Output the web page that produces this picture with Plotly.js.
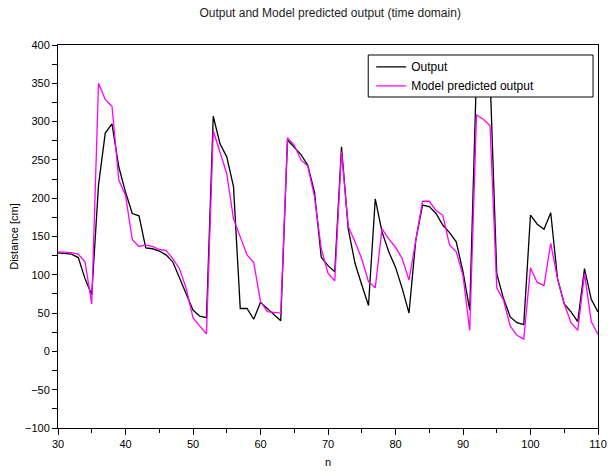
<!DOCTYPE html>
<html>
<head>
<meta charset="utf-8">
<script src="https://cdn.plot.ly/plotly-3.0.1.min.js"></script>
<style>html,body{margin:0;padding:0;background:#fff;}#chart{width:608px;height:471px;}</style>
</head>
<body>
<div id="chart"></div>
<script>
// sample index n = 30..110
const nStart = 30;
const outputValues = [
  128.5, 128, 127, 122.5, 95, 74, 217, 285, 297, 241,
  208, 180, 177, 135, 134, 131, 126, 117, 97, 75,
  54, 46, 44, 307, 271, 254, 215, 56, 56, 42,
  64, 56, 49, 40, 276, 267, 257, 243, 208, 123,
  112, 104, 267, 160, 115, 87, 60, 199, 156, 130,
  110, 82, 50, 145, 191, 189, 180, 165, 155, 143,
  104, 54, 365, 375, 362, 101.5, 69, 45, 37.5, 35,
  178, 166, 159.5, 181, 95, 62, 51.5, 39, 108, 68,
  51.5
];
const predictedValues = [
  130, 129.5, 129, 127, 117, 62, 350, 329, 320, 224,
  204, 146, 137, 139, 137, 133, 132, 121, 108, 82,
  44, 33, 23, 288, 261, 232, 173, 149, 126, 116,
  65, 52, 51, 50, 279, 269, 250, 242, 202, 134,
  102, 92, 261, 163, 143, 121, 91, 83, 160, 147,
  136, 121, 93, 145, 196, 196, 184, 178, 139, 130,
  99, 27.5, 309, 303, 295, 83, 67, 33, 21, 16,
  109, 90, 86, 141, 95, 62, 37.5, 27.5, 101.5, 39,
  22
];
const nValues = outputValues.map((_, i) => nStart + i);
const seriesNames = ['Output', 'Model predicted output'];
const chartTitle = 'Output and Model predicted output (time domain)';
const xTitle = 'n';
const yTitle = 'Distance [cm]';

const FONT = 'Liberation Sans, Arial, sans-serif';
const traces = [
  {x: nValues, y: outputValues, name: seriesNames[0], type: 'scatter', mode: 'lines',
   line: {color: '#000000', width: 1.3}},
  {x: nValues, y: predictedValues, name: seriesNames[1], type: 'scatter', mode: 'lines',
   line: {color: '#ff00ff', width: 1.3}}
];
const layout = {
  width: 608, height: 471,
  margin: {l: 57.5, r: 10, t: 45, b: 43, pad: 0},
  paper_bgcolor: '#ffffff', plot_bgcolor: '#ffffff',
  font: {family: FONT, size: 11, color: '#000'},
  title: {text: chartTitle, x: 0.543, xanchor: 'center', y: 0.972, yanchor: 'middle',
          font: {family: FONT, size: 12, color: '#222'}},
  showlegend: true,
  legend: {x: 0.58, y: 0.981, xanchor: 'left', yanchor: 'top',
           bgcolor: 'rgba(0,0,0,0)', borderwidth: 0,
           font: {family: FONT, size: 12, color: '#000'}, tracegroupgap: 0},
  shapes: [
    {type: 'rect', xref: 'paper', yref: 'paper', x0: 0.5745, x1: 0.9908, y0: 0.8642, y1: 0.9739,
     fillcolor: '#ffffff', line: {color: '#000', width: 1}, layer: 'above'}
  ],
  xaxis: {range: [30, 110], dtick: 10, tick0: 30, ticks: 'outside', ticklen: 6, tickwidth: 1,
          tickcolor: '#000', showline: true, linecolor: '#000', linewidth: 1, mirror: true,
          showgrid: false, zeroline: false, tickfont: {family: FONT, size: 11},
          minor: {dtick: 5, ticks: 'outside', ticklen: 4, tickcolor: '#000', showgrid: false},
          title: {text: xTitle, font: {family: FONT, size: 11}, standoff: 9}, automargin: false},
  yaxis: {range: [-100, 400], dtick: 50, tick0: 0, ticks: 'outside', ticklen: 5, tickwidth: 1,
          tickcolor: '#000', showline: true, linecolor: '#000', linewidth: 1, mirror: true,
          showgrid: false, zeroline: false, tickfont: {family: FONT, size: 11},
          minor: {dtick: 25, ticks: 'outside', ticklen: 5, tickcolor: '#000', showgrid: false},
          title: {text: yTitle, font: {family: FONT, size: 11}, standoff: 4}, automargin: false}
};
Plotly.newPlot('chart', traces, layout, {displayModeBar: false, staticPlot: true});
</script>
</body>
</html>
